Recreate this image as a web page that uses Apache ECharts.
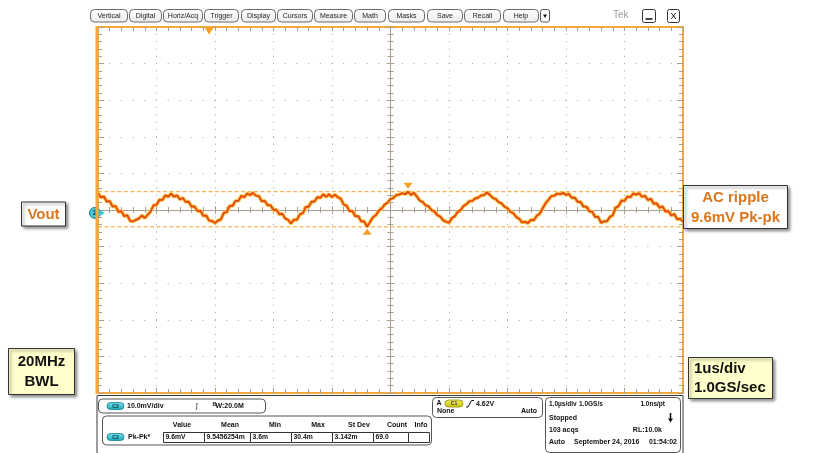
<!DOCTYPE html>
<html>
<head>
<meta charset="utf-8">
<script src="https://cdn.jsdelivr.net/npm/echarts@6/dist/echarts.min.js"></script>
<style>
  html, body { margin: 0; padding: 0; background: #fff; }
  #c { width: 817px; height: 453px; }
</style>
</head>
<body>
<div id="c"></div>
<script>
// ---- Channel 2: output ripple, 1 us/div horizontal, 10 mV/div vertical ----
const sampleStartUs = -5;
const sampleStepUs = 0.05;
const ripple_mV = [
  4.6, 3.4, 3.7, 2.3, 2.4, 0.9, 1.1, -0.5, -0.3, -1.7,
  -1.4, -3.0, -3.1, -2.7, -2.3, -1.5, -2.2, -1.3, -0.4, 1.3,
  1.4, 2.8, 2.7, 4.0, 3.6, 4.5, 3.6, 4.0, 2.9, 3.3,
  2.2, 2.3, 0.9, 1.0, -0.3, -0.2, -1.6, -1.5, -2.9, -3.0,
  -3.6, -2.9, -2.6, -0.8, -0.6, 1.1, 1.1, 2.5, 2.5, 3.9,
  3.5, 4.5, 4.1, 4.7, 3.9, 3.8, 2.4, 2.5, 1.3, 1.3,
  0.0, 0.1, -1.2, -1.0, -2.3, -2.7, -3.7, -2.6, -2.7, -1.2,
  -0.9, 0.8, 0.9, 2.3, 2.3, 3.5, 3.3, 4.3, 3.6, 4.3,
  3.5, 4.2, 3.5, 3.1, 1.5, 1.2, -0.3, -0.3, -1.7, -1.7,
  -3.1, -3.1, -4.6, -3.3, -2.0, -1.4, -0.2, 0.4, 1.5, 2.0,
  3.0, 3.3, 4.1, 4.2, 4.6, 4.3, 5.0, 4.1, 4.7, 3.7,
  2.6, 2.2, 1.3, 1.0, 0.0, -0.4, -1.4, -1.8, -2.8, -3.2,
  -3.5, -2.2, -1.7, -0.5, 0.0, 1.1, 1.6, 2.4, 2.5, 3.2,
  3.4, 4.0, 4.1, 4.8, 4.1, 3.3, 3.0, 2.1, 1.8, 0.9,
  0.5, -0.5, -0.9, -1.9, -2.4, -3.4, -3.2, -3.6, -2.7, -2.8,
  -1.6, -1.0, 0.4, 1.8, 2.8, 3.8, 3.9, 4.5, 4.3, 4.7,
  4.1, 4.4, 3.3, 3.4, 2.2, 2.2, 0.9, 0.9, -0.4, -0.5,
  -1.9, -1.9, -3.5, -3.1, -3.1, -1.9, -1.4, 0.6, 1.1, 2.6,
  2.5, 3.7, 3.5, 4.5, 4.2, 4.6, 3.6, 3.9, 2.7, 3.1,
  1.7, 1.8, 0.6, 1.0, -0.4, -0.3, -1.5, -1.1, -2.5, -2.4,
  -3.1
];
const triggerPosUs = -3.1;
const ch2Offset_mV = -0.8;

// Screen divisions
const timeMinUs = -5, timeMaxUs = 5, timeDivUs = 1;
const voltMin_mV = -50, voltMax_mV = 50, voltDiv_mV = 10;

// Readout texts
const menuLabels = ['Vertical', 'Digital', 'Horiz/Acq', 'Trigger', 'Display', 'Cursors',
  'Measure', 'Math', 'Masks', 'Save', 'Recall', 'Help'];
const measHeaders = ['Value', 'Mean', 'Min', 'Max', 'St Dev', 'Count', 'Info'];
const measValues = ['9.6mV', '9.5456254m', '3.6m', '30.4m', '3.142m', '69.0', ''];
const measName = 'Pk-Pk*';
const ch2Scale = '10.0mV/div';
const ch2Bw = 'W:20.0M';
const trigLevel = '4.62V';
const timebase = ['1.0\u00b5s/div', '1.0GS/s', '1.0ns/pt'];
const acqState = 'Stopped';
const acqCount = '103 acqs';
const recLength = 'RL:10.0k';
const stampMode = 'Auto';
const stampDate = 'September 24, 2016';
const stampTime = '01:54:02';
const noteVout = 'Vout';
const noteRipple = ['AC ripple', '9.6mV Pk-pk'];
const noteBw = ['20MHz', 'BWL'];
const noteTime = ['1us/div', '1.0GS/sec'];

// ---- layout / styles ----
const FONT = '"Liberation Sans", Arial, Helvetica, sans-serif';
const ORANGE = '#f5a93c';
const TICK = '#a9a08e';
const DOT = '#aaa293';
const NOTE_TXT = '#da761c';
const CURSOR = '#f5a028';

const menuBtnX = [[90,127],[129,161],[163,202],[204,238],[241,275],[277,312],
  [314,352],[354,385],[388,424],[427,462],[464,500],[503,538]];

function txt(x, y, s, o) {
  o = o || {};
  return { type: 'text', x: x, y: y, z: o.z || 120, silent: true,
    style: { text: s, fill: o.fill || '#111',
      font: (o.weight || 'bold') + ' ' + (o.size || 7) + 'px ' + FONT,
      align: o.align || 'left', verticalAlign: 'middle' } };
}
function box(x, y, w, h, o) {
  o = o || {};
  return { type: 'rect', z: o.z || 110, silent: true,
    shape: { x: x, y: y, width: w, height: h, r: o.r || 0 },
    style: { fill: o.fill === undefined ? '#fff' : o.fill, stroke: o.stroke || '#555',
      lineWidth: o.lw || 1,
      shadowBlur: o.sb || 0, shadowOffsetX: o.sx || 0, shadowOffsetY: o.sy || 0,
      shadowColor: o.sc || 'rgba(0,0,0,0)' } };
}
function pill(x, y, w, h, label, top, bottom, edge, ink) {
  return [
    { type: 'rect', z: 125, silent: true, shape: { x: x, y: y, width: w, height: h, r: h / 2 },
      style: { fill: { type: 'linear', x: 0, y: 0, x2: 0, y2: 1,
        colorStops: [{ offset: 0, color: top }, { offset: 1, color: bottom }] },
        stroke: edge, lineWidth: 0.8 } },
    txt(x + w / 2, y + h / 2 + 0.3, label, { size: 5, align: 'center', fill: ink, z: 126 })
  ];
}

const g = [];

// Menu bar
menuLabels.forEach(function (lab, i) {
  const b = menuBtnX[i];
  g.push(box(b[0] + 0.5, 9.5, b[1] - b[0], 12.5, { r: 4, stroke: '#6a6a6a',
    fill: { type: 'linear', x: 0, y: 0, x2: 0, y2: 1,
      colorStops: [{ offset: 0, color: '#ffffff' }, { offset: 1, color: '#ececec' }] } }));
  g.push(txt((b[0] + b[1]) / 2 + 0.5, 16, lab, { weight: 'normal', size: 7, align: 'center', fill: '#222' }));
});
g.push(box(540.5, 9.5, 9, 12.5, { r: 2, stroke: '#555' }));
g.push({ type: 'polygon', z: 121, silent: true, shape: { points: [[543, 14.5], [547, 14.5], [545, 18]] },
  style: { fill: '#111' } });
g.push(txt(613, 15.5, 'Tek', { weight: 'normal', size: 10, fill: '#9a9a9a' }));
g.push(box(642.5, 9.5, 13, 13, { r: 2, stroke: '#333' }));
g.push({ type: 'line', z: 121, silent: true, shape: { x1: 645.5, y1: 19, x2: 652.5, y2: 19 },
  style: { stroke: '#111', lineWidth: 1.5 } });
g.push(box(667.5, 9.5, 12, 13, { r: 2, stroke: '#333' }));
g.push(txt(673.5, 16.2, 'X', { weight: 'normal', size: 9, align: 'center', fill: '#111' }));

// Thicker left frame edge of the graticule
g.push({ type: 'rect', z: 105, silent: true, shape: { x: 95.5, y: 26, width: 3, height: 368 },
  style: { fill: ORANGE } });

// Bottom readout panel frame
g.push(box(97, 395.5, 586, 60, { fill: '#fff', stroke: '#3a3a3a', z: 100 }));

// Channel box
g.push(box(98.5, 399, 167, 14, { r: 4, stroke: '#555' }));
pill(107, 402.5, 17, 7, 'C2', '#7ee0ea', '#17a7b8', '#10808e', '#073040').forEach(function (e) { g.push(e); });
g.push(txt(127, 406.2, ch2Scale));
g.push(txt(196, 406, '\u222b', { weight: 'normal', size: 7 }));
g.push(txt(212.5, 404.5, 'B', { size: 5.5 }));
g.push(txt(215.5, 406.5, ch2Bw));

// Measurement table
g.push(box(102.5, 416, 329, 29, { r: 4, stroke: '#555' }));
const headX = [182, 230, 275, 318, 359, 397, 421];
measHeaders.forEach(function (h, i) { g.push(txt(headX[i], 425.5, h, { align: 'center' })); });
pill(107, 433.5, 17, 7, 'C2', '#7ee0ea', '#17a7b8', '#10808e', '#073040').forEach(function (e) { g.push(e); });
g.push(txt(128, 437.2, measName));
const cellX = [163, 204, 250, 291, 332, 373, 408, 429];
measValues.forEach(function (v, i) {
  g.push(box(cellX[i] + 0.5, 432.5, cellX[i + 1] - cellX[i], 10, { stroke: '#333', z: 112 }));
  g.push(txt(cellX[i] + 2.5, 437.6, v, { size: 6.8 }));
});

// Trigger box
g.push(box(432.5, 397.5, 110, 20, { r: 4, stroke: '#555' }));
g.push(txt(436.5, 403.5, 'A'));
pill(445, 400, 18, 7, 'C1', '#f4ee6a', '#c8c200', '#8e8a00', '#333').forEach(function (e) { g.push(e); });
g.push({ type: 'polyline', z: 121, silent: true,
  shape: { points: [[466, 407], [468, 407], [471.5, 400.5], [474, 400.5]] },
  style: { stroke: '#111', lineWidth: 1, fill: null } });
g.push(txt(476, 403.8, trigLevel));
g.push(txt(437, 411.5, 'None'));
g.push(txt(537, 411.5, 'Auto', { align: 'right' }));

// Timebase / acquisition box
g.push(box(545.5, 397.5, 135, 55, { r: 4, stroke: '#555' }));
g.push(txt(549, 404.5, timebase[0], { size: 6.5 }));
g.push(txt(579, 404.5, timebase[1], { size: 6.5 }));
g.push(txt(665, 404.5, timebase[2], { align: 'right', size: 6.5 }));
g.push(txt(549, 418.5, acqState));
g.push({ type: 'line', z: 121, silent: true, shape: { x1: 670.5, y1: 413, x2: 670.5, y2: 419 },
  style: { stroke: '#111', lineWidth: 1.6 } });
g.push({ type: 'polygon', z: 121, silent: true, shape: { points: [[668, 418.5], [673, 418.5], [670.5, 422.5]] },
  style: { fill: '#111' } });
g.push(txt(549, 430.5, acqCount));
g.push(txt(662, 430.5, recLength, { align: 'right' }));
g.push(txt(549, 442.5, stampMode));
g.push(txt(574, 442.5, stampDate));
g.push(txt(677, 442.5, stampTime, { align: 'right' }));

// Annotation callouts
const shade = { sb: 3, sx: 2, sy: 2, sc: 'rgba(0,0,0,0.45)', stroke: '#333', z: 130 };
g.push(box(21.5, 202, 44, 24, Object.assign({}, shade)));
g.push(txt(43.5, 214.5, noteVout, { size: 15, align: 'center', fill: NOTE_TXT, z: 131 }));
g.push(box(683.5, 185.5, 104, 43, Object.assign({}, shade)));
g.push(txt(735.5, 198, noteRipple[0], { size: 15, align: 'center', fill: NOTE_TXT, z: 131 }));
g.push(txt(735.5, 218, noteRipple[1], { size: 15, align: 'center', fill: NOTE_TXT, z: 131 }));
g.push(box(8.5, 348.5, 66, 46, Object.assign({}, shade, { fill: '#ffffcc' })));
g.push(txt(41.5, 362, noteBw[0], { size: 15, align: 'center', z: 131 }));
g.push(txt(41.5, 382, noteBw[1], { size: 15, align: 'center', z: 131 }));
g.push(box(688.5, 357.5, 84, 41, Object.assign({}, shade, { fill: '#ffffcc' })));
g.push(txt(694, 369, noteTime[0], { size: 15, z: 131 }));
g.push(txt(694, 388, noteTime[1], { size: 15, z: 131 }));

// ---- axes: graticule edges and centre crosshair ----
function xAx(pos, inside, offset, len, minorLen, withLine, split) {
  return {
    type: 'value', min: timeMinUs, max: timeMaxUs, interval: timeDivUs, position: pos, offset: offset,
    axisLine: { show: withLine, onZero: false, lineStyle: { color: TICK, width: 1 } },
    axisLabel: { show: false },
    axisTick: { show: true, inside: inside, length: len, lineStyle: { color: TICK, width: 1 } },
    minorTick: { show: true, splitNumber: 5, length: minorLen, lineStyle: { color: TICK, width: 1 } },
    splitLine: split ? { show: true, lineStyle: { color: DOT, width: 1, type: [1, 6.32], dashOffset: 0.5 } } : { show: false },
    minorSplitLine: { show: false }
  };
}
function yAx(pos, inside, offset, len, minorLen, withLine, split) {
  return {
    type: 'value', min: voltMin_mV, max: voltMax_mV, interval: voltDiv_mV, position: pos, offset: offset,
    axisLine: { show: withLine, onZero: false, lineStyle: { color: TICK, width: 1 } },
    axisLabel: { show: false },
    axisTick: { show: true, inside: inside, length: len, lineStyle: { color: TICK, width: 1 } },
    minorTick: { show: true, splitNumber: 5, length: minorLen, lineStyle: { color: TICK, width: 1 } },
    splitLine: split ? { show: true, lineStyle: { color: DOT, width: 1, type: [1, 10.7], dashOffset: 0.5 } } : { show: false },
    minorSplitLine: { show: false }
  };
}

const traceData = ripple_mV.map(function (v, i) { return [sampleStartUs + i * sampleStepUs, v]; });
// Pk-Pk measurement cursors follow the trace extremes
const peakMax = Math.max.apply(null, ripple_mV);
const peakMin = Math.min.apply(null, ripple_mV);
function cursorSeries(name, level) {
  return {
    name: name, type: 'line', xAxisIndex: 0, yAxisIndex: 0, silent: true, z: 2,
    showSymbol: false, symbol: 'none', color: CURSOR,
    data: [[timeMinUs, level], [timeMaxUs, level]],
    lineStyle: { color: CURSOR, width: 1, type: [4, 2.5], opacity: 1 }
  };
}

const option = {
  animation: false,
  backgroundColor: '#ffffff',
  grid: { left: 98, top: 27, width: 585, height: 366, show: true,
    borderColor: ORANGE, borderWidth: 2, backgroundColor: '#ffffff' },
  xAxis: [
    xAx('bottom', true, 0, 5, 4, false, true),
    xAx('top', true, 0, 4, 4, false, false),
    xAx('bottom', true, -183, 4, 3, true, false),
    xAx('bottom', false, -183, 4, 3, false, false)
  ],
  yAxis: [
    yAx('left', true, 0, 6, 4, false, true),
    yAx('right', true, 0, 6, 4, false, false),
    yAx('left', true, -292.5, 4, 3, true, false),
    yAx('left', false, -292.5, 4, 3, false, false)
  ],
  series: [
    cursorSeries('cursor max', peakMax),
    cursorSeries('cursor min', peakMin),
    {
      name: 'glow', type: 'line', xAxisIndex: 0, yAxisIndex: 0, data: traceData,
      showSymbol: false, silent: true, z: 3, color: '#f8c23a',
      lineStyle: { color: '#f8c23a', width: 3.8, opacity: 1 },
      markPoint: {
        silent: true, animation: false,
        data: [
          { coord: [sampleStartUs, ch2Offset_mV], symbol: 'circle', symbolSize: 11, symbolOffset: [-3, 0],
            itemStyle: { color: '#43c6d8', borderColor: '#137b8c', borderWidth: 1 },
            label: { show: true, formatter: '2', position: 'inside', fontSize: 8, fontWeight: 'bold',
              color: '#0b3345', fontFamily: FONT } },
          { coord: [sampleStartUs, ch2Offset_mV], symbol: 'arrow', symbolSize: [5, 6], symbolRotate: -90,
            symbolOffset: [7, 0], itemStyle: { color: '#43c6d8' }, label: { show: false } }
        ]
      }
    },
    {
      name: 'CH2', type: 'line', xAxisIndex: 0, yAxisIndex: 0, data: traceData,
      showSymbol: false, silent: true, z: 4, color: '#e4421a',
      lineStyle: { color: '#e4421a', width: 1.7 },
      markPoint: {
        silent: true, animation: false,
        itemStyle: { color: '#f5a020' }, label: { show: false },
        data: [
          { type: 'max', symbol: 'triangle', symbolRotate: 180, symbolSize: [9, 6], symbolOffset: [0, -6] },
          { type: 'min', symbol: 'triangle', symbolSize: [9, 6], symbolOffset: [0, 5] },
          { coord: [triggerPosUs, voltMax_mV], symbol: 'triangle', symbolRotate: 180, symbolSize: [9, 7],
            symbolOffset: [0, 4] }
        ]
      }
    }
  ],
  graphic: g
};

const chart = echarts.init(document.getElementById('c'), null, { renderer: 'canvas', width: 817, height: 453 });
chart.setOption(option);
</script>
</body>
</html>
